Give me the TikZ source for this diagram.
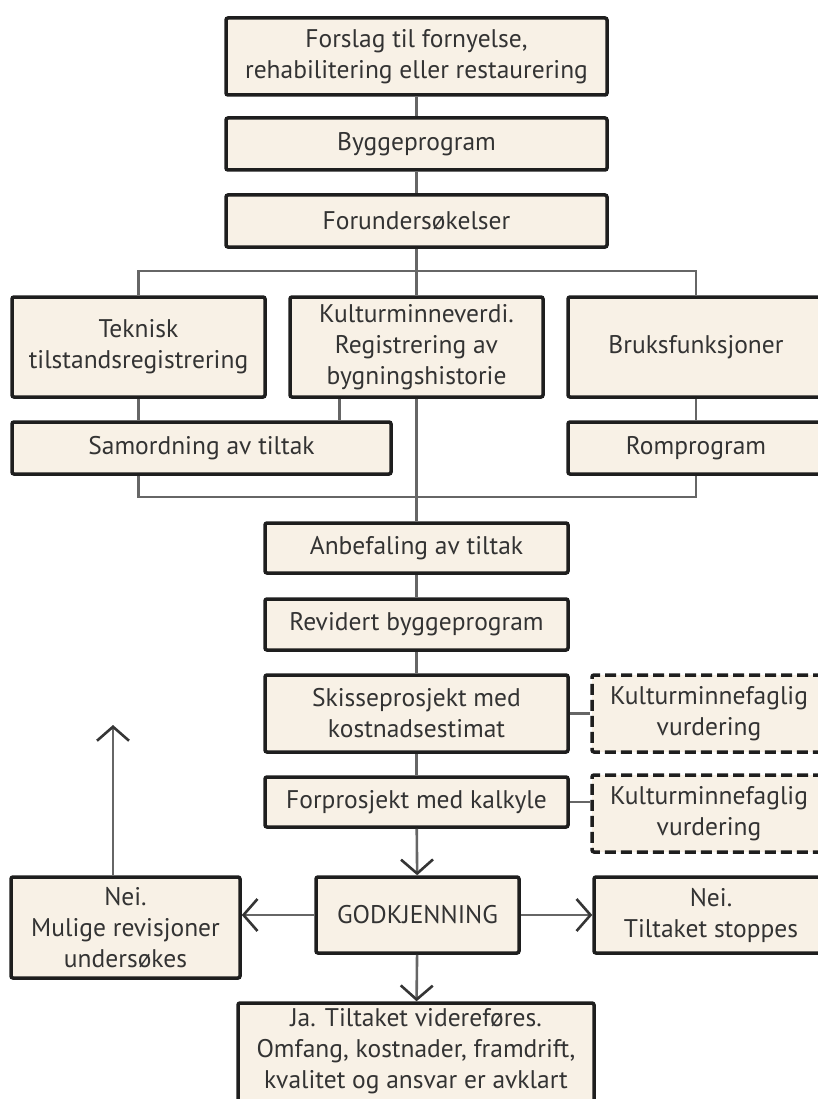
\documentclass[tikz,border=0pt]{standalone}
\usepackage{fontspec}
\setmainfont{PT Sans}
\usetikzlibrary{arrows.meta}

\definecolor{boxfill}{HTML}{F8F1E6}
\definecolor{boxline}{HTML}{1E1E1E}
\definecolor{linkgray}{HTML}{666666}
\definecolor{textgray}{HTML}{333333}

\begin{document}
\begin{tikzpicture}[x=1pt, y=-1pt,
    >={Straight Barb[length=14pt, width=32pt, line width=2.6pt, color=boxline!90]},
    box/.style={draw=boxline, line width=3.5pt, fill=boxfill, rounded corners=2pt,
      text=textgray, align=center, inner sep=0pt,
      font=\fontsize{25.5}{31}\selectfont},
    dashbox/.style={box, dash pattern=on 11pt off 5pt},
    link/.style={draw=linkgray, line width=2.6pt}]
  % fixed page size
  \useasboundingbox (0,0) rectangle (818,1099);

  % The top of the chart
  \node[box, minimum width=381pt, minimum height=77pt] (forslag) at (416.5,56.5)
    {Forslag til fornyelse,\\rehabilitering eller restaurering};
  \node[box, minimum width=381pt, minimum height=52pt] (bygg) at (416.5,144) {Byggeprogram};
  \node[box, minimum width=381pt, minimum height=52pt] (forund) at (416.5,221) {Forundersøkelser};

  % The three studies
  \node[box, minimum width=253pt, minimum height=100pt] (teknisk) at (138.5,347)
    {Teknisk\\tilstandsregistrering};
  \node[box, minimum width=253pt, minimum height=100pt] (kultur) at (416.5,347)
    {Kulturminneverdi.\\Registrering av\\bygningshistorie};
  \node[box, minimum width=256pt, minimum height=100pt] (bruks) at (696,347) {Bruksfunksjoner};
  \node[box, minimum width=379pt, minimum height=52pt] (samord) at (201.5,448) {Samordning av tiltak};
  \node[box, minimum width=256pt, minimum height=52pt] (rom) at (696,448) {Romprogram};

  % The main column
  \node[box, minimum width=303pt, minimum height=50pt] (anbef) at (416.5,548) {Anbefaling av tiltak};
  \node[box, minimum width=303pt, minimum height=51pt] (revid) at (416.5,624.5) {Revidert byggeprogram};
  \node[box, minimum width=303pt, minimum height=77pt] (skisse) at (416.5,713.5)
    {Skisseprosjekt med\\kostnadsestimat};
  \node[box, minimum width=303pt, minimum height=50pt] (forpro) at (416.5,802) {Forprosjekt med kalkyle};
  \node[dashbox, minimum width=234pt, minimum height=77pt] (kmf1) at (709,713.5)
    {Kulturminnefaglig\\vurdering};
  \node[dashbox, minimum width=234pt, minimum height=77pt] (kmf2) at (709,813.5)
    {Kulturminnefaglig\\vurdering};

  % The decision
  \node[box, minimum width=203pt, minimum height=76pt] (godk) at (417.5,915) {GODKJENNING};
  \node[box, minimum width=229pt, minimum height=101pt] (neiL) at (125.5,927.5)
    {Nei.\\Mulige revisjoner\\undersøkes};
  \node[box, minimum width=234pt, minimum height=76pt] (neiR) at (711,915)
    {Nei.\\Tiltaket stoppes};
  \node[box, minimum width=356pt, minimum height=102pt] (ja) at (416,1054)
    {Ja. Tiltaket videreføres.\\Omfang, kostnader, framdrift,\\kvalitet og ansvar er avklart\\[-19pt]\mbox{}};

  % help points for the bars
  \coordinate (barT) at (416.5,271);
  \coordinate (barB) at (416.5,497);
  \coordinate (up) at (113,725);

  % plain connectors
  \foreach \a/\b in {forslag/bygg, bygg/forund, anbef/revid, revid/skisse, skisse/forpro}
    \draw[link] (\a) -- (\b);
  \draw[link] (forund) -- (kultur);
  \draw[link] (teknisk.north) -- (teknisk.north |- barT) -- (bruks.north |- barT) -- (bruks.north);
  \draw[link] (teknisk.south) -- (teknisk.south |- samord.north);
  \draw[link] ([xshift=51pt]kultur.south west) -- ([xshift=51pt]kultur.south west |- samord.north);
  \draw[link] (kultur.south) -- (anbef.north);
  \draw[link] (bruks.south) -- (rom.north);
  \draw[link] (teknisk.south |- samord.south) -- (teknisk.south |- barB)
    -- (rom.south |- barB) -- (rom.south);
  \draw[link] (skisse.east) -- (kmf1.west);
  \draw[link] (forpro.east) -- (forpro.east -| kmf2.west);

  % arrows
  \draw[link, ->] (forpro) -- (godk);
  \draw[link, ->] (godk) -- (ja);
  \draw[link, ->] (godk.west) -- (godk.west -| neiL.east);
  \draw[link, ->] (godk.east) -- (godk.east -| neiR.west);
  \draw[link, ->] (neiL.north -| up) -- (up);
\end{tikzpicture}
\end{document}
